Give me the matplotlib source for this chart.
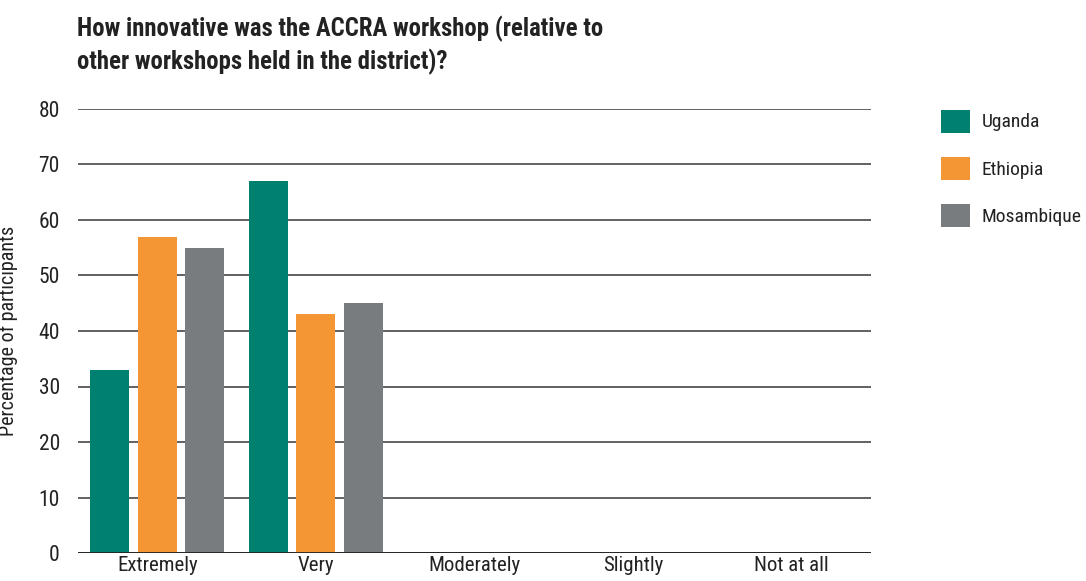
import numpy as np
import matplotlib.pyplot as plt
from matplotlib.patches import Patch

categories = ['Extremely', 'Very', 'Moderately', 'Slightly', 'Not at all']
countries = ['Uganda', 'Ethiopia', 'Mosambique']
uganda = [33, 67, 0, 0, 0]
ethiopia = [57, 43, 0, 0, 0]
mosambique = [55, 45, 0, 0, 0]
colors = ['#008170', '#f59635', '#797c7e']

plt.rcParams['font.family'] = ['Roboto Condensed', 'DejaVu Sans']

fig = plt.figure(figsize=(10.86, 5.81), dpi=100)
ax = fig.add_axes([78 / 1086, 1 - 553 / 581, 793 / 1086, 444 / 581])

x = np.arange(len(categories))
w = 0.245
step = 0.30
for i, (vals, c) in enumerate(zip([uganda, ethiopia, mosambique], colors)):
    ax.bar(x + (i - 1) * step, vals, width=w, color=c, zorder=3)
    # zero values show as thin strokes on the baseline
    for xi, v in zip(x, vals):
        if v == 0:
            ax.plot([xi + (i - 1) * step - w / 2, xi + (i - 1) * step + w / 2], [0, 0],
                    color='#444444', lw=1.2, zorder=4)

ax.set_xlim(-0.5, len(categories) - 0.5)
ax.set_ylim(0, 80)
ax.set_yticks(range(0, 81, 10))
ax.yaxis.grid(True, color='#555555', lw=1.3, zorder=0)
ax.set_xticks(x)
ax.set_xticklabels(categories, fontsize=15, color='#222222')
ax.tick_params(axis='y', labelsize=15.5, colors='#222222', length=0, pad=13)
ax.tick_params(axis='x', length=0, pad=2)
for s in ax.spines.values():
    s.set_visible(False)
ax.axhline(0, color='#222222', lw=1.3, zorder=5)

ax.set_ylabel('Percentage of participants', fontsize=14.5, color='#222222')
ax.yaxis.set_label_coords(-0.0757, 0.5)

fig.text(77 / 1086, 1 - 16 / 581, 'How innovative was the ACCRA workshop (relative to\nother workshops held in the district)?',
         fontsize=17.8, fontweight='bold', color='#222222', va='top', ha='left', linespacing=1.3)

handles = [Patch(facecolor=c) for c in colors]
fig.legend(handles, countries, loc='upper left', bbox_to_anchor=(923 / 1086, 1 - 92 / 581),
           frameon=False, fontsize=14, handlelength=1.5, handleheight=1.45,
           labelspacing=1.25, handletextpad=0.6, labelcolor='#222222')

fig.savefig('out.png', dpi=100)
